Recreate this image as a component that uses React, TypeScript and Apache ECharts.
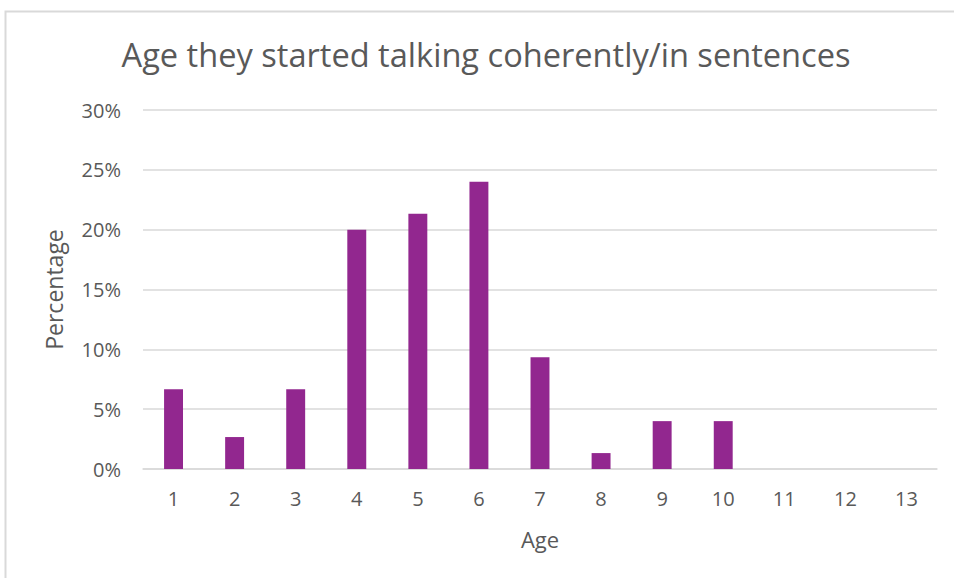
import React, { useEffect, useRef } from "react";
import * as echarts from "echarts";

const categories = ["1", "2", "3", "4", "5", "6", "7", "8", "9", "10", "11", "12", "13"];
const percentages = [6.67, 2.67, 6.67, 20, 21.33, 24, 9.33, 1.33, 4, 4, 0, 0, 0];
const titleText = "Age they started talking coherently/in sentences";
const xName = "Age";
const yName = "Percentage";

export default function App() {
  const ref = useRef<HTMLDivElement>(null);
  useEffect(() => {
    if (!ref.current) return;
    const chart = echarts.init(ref.current, null, { renderer: "svg" });
    const font = "'Open Sans', 'Noto Sans', sans-serif";
    chart.setOption({
      animation: false,
      backgroundColor: "#ffffff",
      textStyle: { fontFamily: font },
      title: {
        text: titleText,
        left: 481,
        top: 33,
        textAlign: "center",
        textStyle: { fontFamily: font, fontSize: 32.6, fontWeight: "normal", color: "#595959" },
      },
      graphic: [
        {
          type: "rect",
          shape: { x: 5.5, y: 11.5, width: 1000, height: 600 },
          style: { fill: "none", stroke: "#d9d9d9", lineWidth: 2 },
          silent: true,
        },
      ],
      grid: { left: 143, right: 17, top: 110, bottom: 109 },
      xAxis: {
        type: "category",
        data: categories,
        name: xName,
        nameLocation: "middle",
        nameGap: 59,
        nameTextStyle: { fontFamily: font, fontSize: 22, color: "#595959" },
        axisLine: { lineStyle: { color: "#d9d9d9", width: 1.5 } },
        axisTick: { show: false },
        axisLabel: { color: "#595959", fontSize: 20, margin: 19, fontFamily: font },
      },
      yAxis: {
        type: "value",
        min: 0,
        max: 30,
        interval: 5,
        name: yName,
        nameLocation: "middle",
        nameGap: 78,
        nameTextStyle: { fontFamily: font, fontSize: 23, color: "#595959" },
        axisLine: { show: false },
        axisTick: { show: false },
        splitLine: { lineStyle: { color: "#d9d9d9", width: 1.5 } },
        axisLabel: { color: "#595959", fontSize: 20, margin: 22, fontFamily: font, formatter: "{value}%" },
      },
      series: [
        {
          type: "bar",
          data: percentages,
          barWidth: "31%",
          itemStyle: { color: "#92278f" },
        },
      ],
    });
    return () => chart.dispose();
  }, []);
  return <div ref={ref} style={{ position: "fixed", left: 0, top: 0, width: 954, height: 578 }} />;
}
